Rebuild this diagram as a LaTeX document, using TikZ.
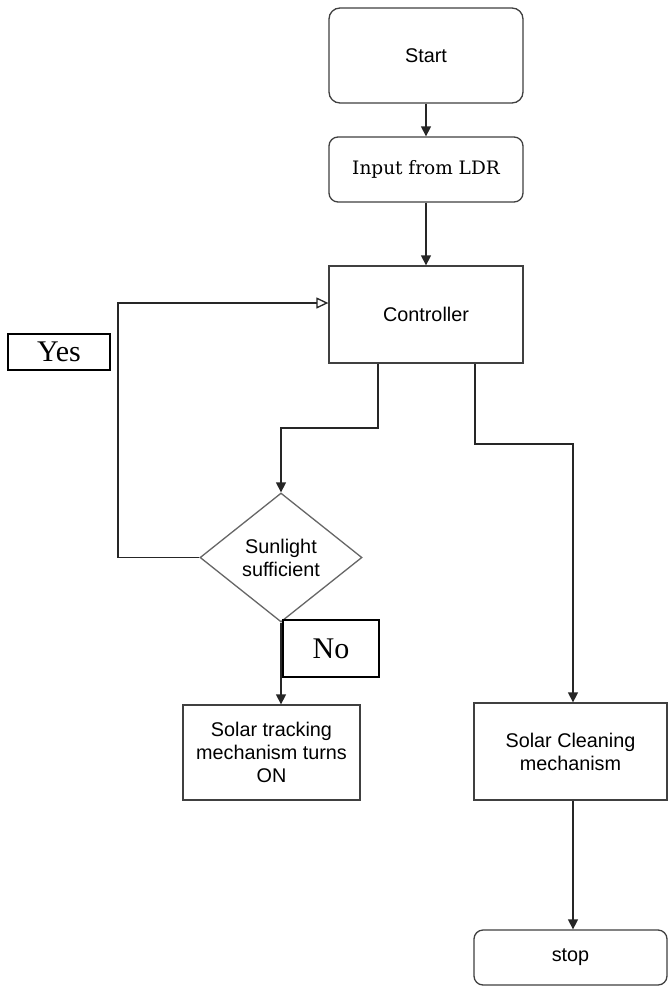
\documentclass[tikz,border=0pt]{standalone}
\usepackage{fontspec}
\setmainfont{Liberation Sans}
\newfontfamily\timesf{Liberation Serif}
\newfontfamily\slabf{DejaVu Serif}
\usetikzlibrary{shapes.geometric,arrows.meta}
\begin{document}
\begin{tikzpicture}[x=1pt,y=-1pt,
  line width=1.3pt,
  box/.style={draw=black!75, inner sep=0pt, align=center, font=\fontsize{19.8}{23}\selectfont},
  rbox/.style={box, rounded corners=11pt},
  lbl/.style={draw=black, line width=1.3pt, inner sep=0pt, font=\timesf\fontsize{30}{32}\selectfont},
  arr/.style={-{Triangle[width=10pt,length=10pt]}, draw=black!85},
  openarr/.style={-{Triangle[open,width=11pt,length=12pt]}, draw=black!85}]
\useasboundingbox (0,0) rectangle (668,996);
\fill[white] (0,0) rectangle (668,996);

\node[rbox, minimum width=194pt, minimum height=95pt] (start) at (426,55.5) {Start};
\node[rbox, minimum width=194pt, minimum height=65pt, rounded corners=9pt, font=\slabf\fontsize{18.5}{22}\selectfont] (inp) at (426,169.5) {Input from LDR};
\node[box, minimum width=194pt, minimum height=97pt] (ctrl) at (426,314.5) {Controller};
\node[draw=black!60, shape=diamond, inner sep=0pt, minimum width=162pt, minimum height=129pt, aspect=1.256, align=center, font=\fontsize{19.8}{23}\selectfont] (dia) at (281,557.5) {Sunlight\\sufficient};
\node[box, minimum width=177pt, minimum height=95pt] (track) at (271.5,752.5) {Solar tracking\\mechanism turns\\ON};
\node[box, minimum width=193pt, minimum height=97pt] (clean) at (570.5,751.5) {Solar Cleaning\\mechanism};
\node[rbox, minimum width=193pt, minimum height=55pt, rounded corners=9pt] (stop) at (570.5,957.5) {stop};

\node[lbl, minimum width=102pt, minimum height=36pt] (yes) at (59,352) {Yes};
\node[lbl, minimum width=96pt, minimum height=57pt] (no) at (331,648.5) {No};

\coordinate (kA) at (281,428);
\coordinate (kB) at (573,444);
\coordinate (kC) at (118,557.5);

\draw[arr] (start) -- (inp);
\draw[arr] (inp) -- (ctrl);
\draw[arr] ([xshift=-48pt]ctrl.south) |- (kA) -- (dia.north);
\draw[arr] ([xshift=49pt]ctrl.south) |- (kB) -- (kB |- clean.north);
\draw[openarr] (dia.west) -- (kC) |- ([yshift=11.5pt]ctrl.west);
\draw[arr] (dia.south) -- (dia.south |- track.north);
\draw[arr] (kB |- clean.south) -- (kB |- stop.north);
\end{tikzpicture}
\end{document}
